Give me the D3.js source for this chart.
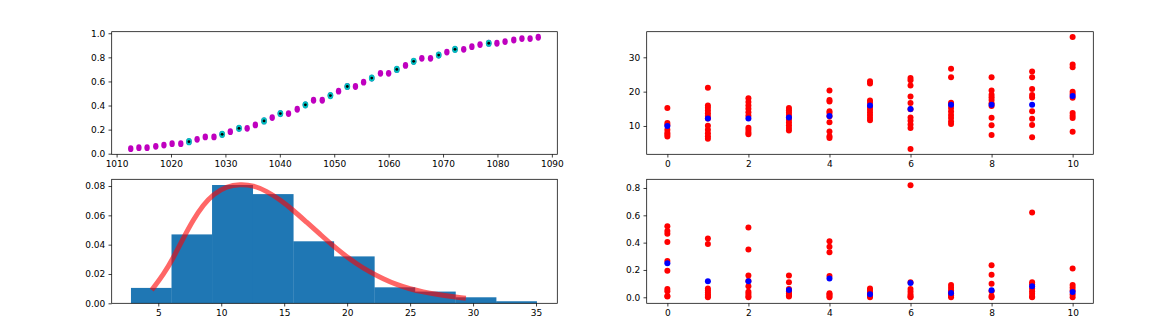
<!DOCTYPE html>
<html>
<head>
<meta charset="utf-8">
<script src="https://cdn.jsdelivr.net/npm/d3@7"></script>
<style>
  body { margin: 0; background: #fff; }
  svg { display: block; font-family: "DejaVu Sans", sans-serif; }
</style>
</head>
<body>
<svg id="fig" width="1172" height="334"></svg>
<script>
// ---- data ----

// top-left: cumulative points
const cdfX = [1012.6, 1014.1, 1015.6, 1017.2, 1018.7, 1020.2, 1021.8, 1023.3, 1024.8, 1026.3,
  1027.9, 1029.4, 1030.9, 1032.5, 1034.0, 1035.5, 1037.1, 1038.6, 1040.1, 1041.6,
  1043.2, 1044.7, 1046.2, 1047.8, 1049.3, 1050.8, 1052.4, 1053.9, 1055.4, 1056.9,
  1058.5, 1060.0, 1061.5, 1063.1, 1064.6, 1066.1, 1067.7, 1069.2, 1070.7, 1072.2,
  1073.8, 1075.3, 1076.8, 1078.4, 1079.9, 1081.4, 1083.0, 1084.5, 1086.0, 1087.5];
const cdfY = [0.042, 0.05, 0.05, 0.061, 0.072, 0.083, 0.083, 0.1, 0.119, 0.139,
  0.139, 0.161, 0.183, 0.211, 0.211, 0.239, 0.272, 0.3, 0.333, 0.333,
  0.369, 0.406, 0.444, 0.444, 0.483, 0.519, 0.558, 0.558, 0.594, 0.628,
  0.667, 0.667, 0.7, 0.733, 0.767, 0.792, 0.792, 0.819, 0.844, 0.867,
  0.867, 0.889, 0.906, 0.917, 0.917, 0.931, 0.944, 0.956, 0.956, 0.967];
// indices drawn as cyan with a black centre
const sampleIdx = [7, 11, 13, 16, 18, 21, 24, 26, 29, 32, 34, 37, 39, 43];

// bottom-left: histogram + fitted density
const histEdges = [2.83, 6.05, 9.27, 12.5, 15.72, 18.94, 22.16, 25.38, 28.6, 31.83, 35.05];
const histHeights = [0.0105, 0.047, 0.0807, 0.0745, 0.0423, 0.032, 0.0109, 0.008, 0.0041, 0.0014];
const pdfX = [4.6, 5.4, 6.19, 6.99, 7.78, 8.57, 9.37, 10.43, 11.49, 12.55, 13.61, 14.67, 15.72,
  16.78, 17.84, 18.8, 19.69, 20.76, 21.82, 22.87, 23.93, 24.99, 26.05, 27.11, 28.17, 29.23];
const pdfY = [0.0104, 0.0195, 0.0309, 0.0445, 0.057, 0.0672, 0.0745, 0.0798, 0.0813, 0.0805,
  0.0765, 0.0707, 0.0635, 0.0553, 0.0472, 0.0398, 0.0336, 0.0268, 0.0213, 0.0166, 0.0127,
  0.0098, 0.0077, 0.0061, 0.0048, 0.0036];

// right column: samples per x (red) and their means (blue)
const groupX = [0, 1, 2, 3, 4, 5, 6, 7, 8, 9, 10];
const topRed = [
  [15.2, 10.9, 10.3, 8.9, 8.0, 7.5, 6.9],
  [21.1, 16.0, 15.3, 14.5, 13.7, 12.9, 12.2, 10.1, 8.9, 7.9, 7.0, 6.3],
  [18.1, 17.0, 16.0, 15.0, 14.0, 13.0, 9.5, 8.8, 8.1, 7.6],
  [15.2, 14.6, 13.9, 13.2, 12.5, 11.8, 11.0, 10.2, 9.4, 8.7],
  [20.3, 17.6, 17.1, 14.3, 13.8, 12.8, 11.1, 8.4, 7.0, 6.5],
  [23.0, 22.4, 17.4, 16.8, 15.5, 14.8, 14.0, 13.2, 12.4, 11.7],
  [24.0, 23.3, 21.8, 18.6, 16.7, 14.9, 12.5, 11.5, 10.4, 9.4, 3.3],
  [26.7, 24.2, 16.8, 16.2, 15.2, 14.2, 13.2, 12.3, 11.3, 10.6],
  [24.2, 20.3, 19.1, 18.4, 17.6, 16.6, 15.8, 12.4, 10.2, 7.4],
  [25.9, 24.2, 20.8, 19.0, 18.3, 14.3, 12.1, 10.3, 6.7],
  [35.9, 27.9, 27.1, 20.0, 19.3, 18.2, 13.8, 13.0, 12.3, 8.3]
];
const topMean = [10.0, 12.2, 12.2, 12.5, 12.9, 16.0, 14.95, 16.2, 16.2, 16.2, 18.7];
const botRed = [
  [0.52, 0.485, 0.465, 0.405, 0.265, 0.195, 0.06, 0.045, 0.01, 0.005],
  [0.43, 0.39, 0.065, 0.05, 0.035, 0.02, 0.01, 0.0],
  [0.51, 0.35, 0.16, 0.12, 0.08, 0.04, 0.025, 0.01, 0.0],
  [0.16, 0.11, 0.06, 0.045, 0.03, 0.015, 0.005],
  [0.41, 0.37, 0.33, 0.155, 0.03, 0.02, 0.01, 0.0],
  [0.065, 0.05, 0.035, 0.02, 0.01, 0.0],
  [0.82, 0.11, 0.06, 0.04, 0.02, 0.005, 0.0],
  [0.09, 0.07, 0.05, 0.03, 0.015, 0.0],
  [0.235, 0.165, 0.1, 0.045, 0.01, 0.0],
  [0.62, 0.11, 0.095, 0.065, 0.045, 0.025, 0.005, 0.0],
  [0.21, 0.09, 0.07, 0.05, 0.02, 0.0]
];
const botMean = [0.249, 0.117, 0.117, 0.053, 0.137, 0.022, 0.105, 0.031, 0.051, 0.08, 0.039];

// ---- helpers ----
const svg = d3.select("#fig");
const TICK = 3.2, PAD = 3.2;

function makeAxes(box, xDomain, yDomain) {
  const g = svg.append("g");
  const x = d3.scaleLinear().domain(xDomain).range([box.x0, box.x1]);
  const y = d3.scaleLinear().domain(yDomain).range([box.y1, box.y0]);
  const plot = g.append("g");
  return { g, plot, x, y, box };
}

function finishAxes(ax, xTicks, yTicks, xFmt, yFmt) {
  const { g, x, y, box } = ax;
  const xa = g.append("g")
    .attr("transform", `translate(0,${box.y1})`)
    .call(d3.axisBottom(x).tickValues(xTicks).tickFormat(xFmt)
      .tickSize(TICK).tickSizeOuter(0).tickPadding(PAD));
  const ya = g.append("g")
    .attr("transform", `translate(${box.x0},0)`)
    .call(d3.axisLeft(y).tickValues(yTicks).tickFormat(yFmt)
      .tickSize(TICK).tickSizeOuter(0).tickPadding(PAD));
  [xa, ya].forEach(a => {
    a.select(".domain").remove();
    a.selectAll("line").attr("stroke", "#000").attr("stroke-width", 0.75);
    a.selectAll("text").attr("fill", "#000").style("font-size", "9px")
      .style("font-family", "'DejaVu Sans', sans-serif");
  });
  // spines
  g.append("rect")
    .attr("x", box.x0).attr("y", box.y0)
    .attr("width", box.x1 - box.x0).attr("height", box.y1 - box.y0)
    .attr("fill", "none").attr("stroke", "#000").attr("stroke-width", 0.75);
}

// ---- top-left: points ----
const tl = makeAxes({ x0: 111.7, x1: 557.3, y0: 31.7, y1: 154.3 }, [1009.1, 1091.0], [-0.005, 1.013]);
const cdfPts = cdfX.map((v, i) => ({ x: v, y: cdfY[i] }));
tl.plot.selectAll(".m").data(cdfPts).enter().append("ellipse")
  .attr("cx", d => tl.x(d.x)).attr("cy", d => tl.y(d.y))
  .attr("rx", 2.7).attr("ry", 3.4).attr("fill", "#bf00bf");
const samplePts = sampleIdx.map(i => cdfPts[i]);
tl.plot.selectAll(".c").data(samplePts).enter().append("ellipse")
  .attr("cx", d => tl.x(d.x)).attr("cy", d => tl.y(d.y))
  .attr("rx", 2.9).attr("ry", 3.6).attr("fill", "#00bfbf");
tl.plot.selectAll(".k").data(samplePts).enter().append("circle")
  .attr("cx", d => tl.x(d.x)).attr("cy", d => tl.y(d.y))
  .attr("r", 1.4).attr("fill", "#000");
finishAxes(tl, d3.range(1010, 1091, 10), [0, 0.2, 0.4, 0.6, 0.8, 1.0], d3.format("d"), d3.format(".1f"));

// ---- bottom-left: histogram ----
const bl = makeAxes({ x0: 111.7, x1: 557.3, y0: 179.3, y1: 303.3 }, [1.3, 36.69], [0, 0.0846]);
const bins = histHeights.map((h, i) => ({ x0: histEdges[i], x1: histEdges[i + 1], h }));
bl.plot.selectAll("rect").data(bins).enter().append("rect")
  .attr("x", d => bl.x(d.x0)).attr("width", d => bl.x(d.x1) - bl.x(d.x0) + 0.3)
  .attr("y", d => bl.y(d.h)).attr("height", d => bl.y(0) - bl.y(d.h))
  .attr("fill", "#1f77b4");
const pdfLine = d3.line().x(d => bl.x(d[0])).y(d => bl.y(d[1])).curve(d3.curveBasis);
bl.plot.append("path")
  .attr("d", pdfLine(pdfX.map((v, i) => [v, pdfY[i]])))
  .attr("fill", "none").attr("stroke", "#ff0000").attr("stroke-width", 5)
  .attr("stroke-opacity", 0.6).attr("stroke-linecap", "square");
finishAxes(bl, [5, 10, 15, 20, 25, 30, 35], [0, 0.02, 0.04, 0.06, 0.08], d3.format("d"), d3.format(".2f"));

// ---- right column: grouped scatter ----
function scatter(ax, red, mean) {
  const pts = [];
  red.forEach((col, i) => col.forEach(v => pts.push({ x: groupX[i], y: v })));
  ax.plot.selectAll(".r").data(pts).enter().append("circle")
    .attr("cx", d => ax.x(d.x)).attr("cy", d => ax.y(d.y))
    .attr("r", 3).attr("fill", "#ff0000");
  ax.plot.selectAll(".b").data(mean).enter().append("circle")
    .attr("cx", (d, i) => ax.x(groupX[i])).attr("cy", d => ax.y(d))
    .attr("r", 3).attr("fill", "#0000ff");
}

const tr = makeAxes({ x0: 646.7, x1: 1093.3, y0: 31.7, y1: 154.3 }, [-0.51, 10.51], [1.75, 37.46]);
scatter(tr, topRed, topMean);
finishAxes(tr, [0, 2, 4, 6, 8, 10], [10, 20, 30], d3.format("d"), d3.format("d"));

const br = makeAxes({ x0: 646.7, x1: 1093.3, y0: 179.3, y1: 303.3 }, [-0.51, 10.51], [-0.044, 0.8636]);
scatter(br, botRed, botMean);
finishAxes(br, [0, 2, 4, 6, 8, 10], [0, 0.2, 0.4, 0.6, 0.8], d3.format("d"), d3.format(".1f"));
</script>
</body>
</html>
